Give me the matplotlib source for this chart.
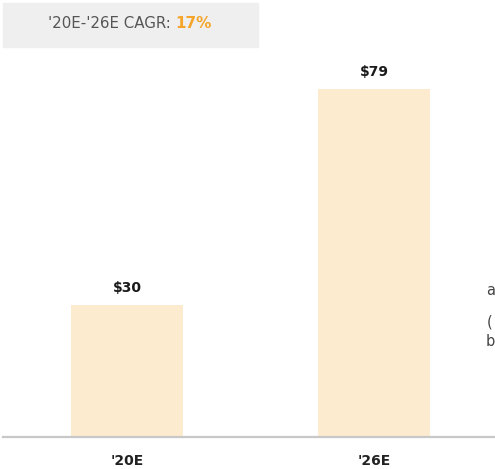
import matplotlib
matplotlib.use("Agg")
import matplotlib.pyplot as plt
from matplotlib.patches import Rectangle

years = ["'20E", "'26E"]
values = [30, 79]
value_labels = ["$30", "$79"]
cagr_label = "'20E-'26E CAGR: "
cagr_value = "17%"

bar_color = "#fdebd0"
orange = "#f4a52a"

plt.rcParams['font.family'] = ['DejaVu Sans']

fig = plt.figure(figsize=(4.95, 4.69), dpi=100)
W, H = 495, 469

# main axes: baseline at y=437px, top at y=50px
ax = fig.add_axes([3 / W, (H - 437) / H, 492 / W, 387 / H])
ax.set_xlim(-0.502, 1.49)
ax.set_ylim(0, 387 / 4.4)
ax.bar(range(len(values)), values, width=0.453, color=bar_color)
for i, (v, lab) in enumerate(zip(values, value_labels)):
    ax.text(i, v + 2.3, lab, ha='center', va='bottom', fontsize=10,
            fontweight='bold', color='#1a1a1a')
for s in ['top', 'right', 'left']:
    ax.spines[s].set_visible(False)
ax.spines['bottom'].set_color('#c8c8c8')
ax.spines['bottom'].set_linewidth(1.6)
ax.set_yticks([])
ax.set_xticks(range(len(years)))
ax.set_xticklabels(years, fontsize=10, fontweight='bold', color='#222222')
ax.tick_params(axis='x', length=0, pad=12)

# header box
fig.patches.append(Rectangle((3 / W, 1 - 47 / H), 255 / W, 44 / H,
                             transform=fig.transFigure, color='#efefef', zorder=0))
t = fig.text(48 / W, 1 - 24 / H, cagr_label, fontsize=10.8, color='#555555',
             va='center', ha='left')
fig.canvas.draw()
bb = t.get_window_extent()
fig.text(bb.x1 / W, 1 - 24 / H, cagr_value, fontsize=11, color=orange,
         fontweight='bold', va='center', ha='left')

# text fragments at right edge
fig.text(486 / W, 1 - 290 / H, "a", fontsize=10.5, color='#444444', va='center')
fig.text(487 / W, 1 - 322 / H, "(", fontsize=10.5, color='#444444', va='center')
fig.text(486 / W, 1 - 342 / H, "b", fontsize=10.5, color='#444444', va='center')

fig.savefig("out.png", dpi=100)
